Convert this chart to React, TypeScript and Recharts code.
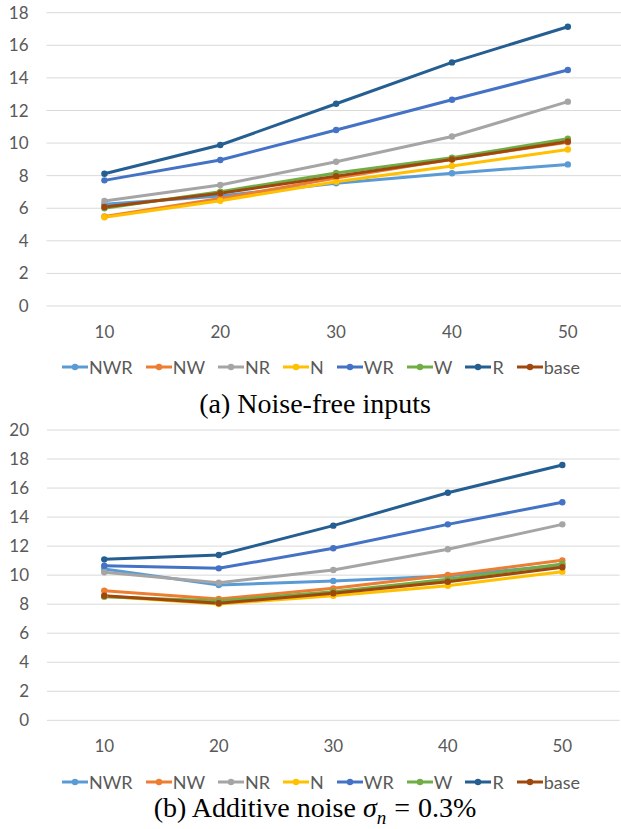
import React from 'react';
import { LineChart, Line, XAxis, YAxis, CartesianGrid, Legend } from 'recharts';

// Sequence lengths on the category axis
const sizes = [10, 20, 30, 40, 50];

const seriesNames = ['NWR', 'NW', 'NR', 'N', 'WR', 'W', 'R', 'base'];
const seriesColors = ['#5B9BD5', '#ED7D31', '#A5A5A5', '#FFC000', '#4472C4', '#70AD47', '#255E91', '#9E480E'];

// (a) noise-free inputs
const cleanNWR = [6.25, 6.75, 7.53, 8.15, 8.69];
const cleanNW = [5.5, 6.6, 7.85, 9.0, 10.05];
const cleanNR = [6.45, 7.43, 8.85, 10.4, 12.54];
const cleanN = [5.45, 6.46, 7.63, 8.59, 9.6];
const cleanWR = [7.71, 8.96, 10.8, 12.66, 14.48];
const cleanW = [6.0, 7.02, 8.16, 9.1, 10.27];
const cleanR = [8.12, 9.88, 12.41, 14.95, 17.14];
const cleanBase = [6.08, 6.92, 7.97, 8.99, 10.1];

// (b) additive noise
const noisyNWR = [10.42, 9.32, 9.6, 9.94, 10.7];
const noisyNW = [8.93, 8.36, 9.09, 10.01, 11.02];
const noisyNR = [10.2, 9.48, 10.35, 11.78, 13.5];
const noisyN = [8.55, 8.01, 8.58, 9.27, 10.24];
const noisyWR = [10.65, 10.47, 11.85, 13.5, 15.02];
const noisyW = [8.52, 8.22, 8.86, 9.71, 10.77];
const noisyR = [11.09, 11.39, 13.41, 15.68, 17.59];
const noisyBase = [8.58, 8.06, 8.75, 9.55, 10.54];

const ticksA = [0, 2, 4, 6, 8, 10, 12, 14, 16, 18];
const ticksB = [0, 2, 4, 6, 8, 10, 12, 14, 16, 18, 20];

const buildRows = (series: number[][]) =>
  sizes.map((size, i) => {
    const row: Record<string, number> = { size };
    seriesNames.forEach((name, k) => {
      row[name] = series[k][i];
    });
    return row;
  });

const rowsA = buildRows([cleanNWR, cleanNW, cleanNR, cleanN, cleanWR, cleanW, cleanR, cleanBase]);
const rowsB = buildRows([noisyNWR, noisyNW, noisyNR, noisyN, noisyWR, noisyW, noisyR, noisyBase]);

const AXIS_FONT = 'Lato, "Open Sans", sans-serif';
const TEXT_GRAY = '#595959';

const LegendRow = () => (
  <div
    style={{
      display: 'flex',
      justifyContent: 'center',
      alignItems: 'center',
      height: 20,
      fontFamily: AXIS_FONT,
      fontSize: 18,
      color: TEXT_GRAY,
    }}
  >
    {seriesNames.map((name, i) => (
      <div key={name} style={{ display: 'flex', alignItems: 'center', marginRight: i < seriesNames.length - 1 ? 13 : 0 }}>
        <svg width={26} height={10} style={{ display: 'block' }}>
          <line x1={0} y1={5} x2={26} y2={5} stroke={seriesColors[i]} strokeWidth={3} />
          <circle cx={13} cy={5} r={3.2} fill={seriesColors[i]} />
        </svg>
        <span style={{ marginLeft: 1, lineHeight: '20px' }}>{name}</span>
      </div>
    ))}
  </div>
);

type PanelProps = {
  rows: Record<string, number>[];
  yMax: number;
  yTicks: number[];
  top: number;
  height: number;
  plotTop: number;
  plotLeft: number;
  plotRight: number;
  plotBottom: number;
  legendTop: number;
};

const CHART_W = 650;

const Panel = ({ rows, yMax, yTicks, top, height, plotTop, plotLeft, plotRight, plotBottom, legendTop }: PanelProps) => (
  <div style={{ position: 'absolute', left: 0, top }}>
    <LineChart
      width={CHART_W}
      height={height}
      data={rows}
      margin={{ top: plotTop, left: 0, right: CHART_W - plotRight, bottom: 0 }}
    >
      <CartesianGrid horizontal vertical={false} stroke="#D9D9D9" strokeWidth={1} />
      <XAxis
        dataKey="size"
        type="number"
        domain={[5, 55]}
        ticks={sizes}
        height={height - plotBottom}
        axisLine={false}
        tickLine={false}
        tickSize={0}
        tickMargin={20}
        tick={{ fill: TEXT_GRAY, fontSize: 17, fontFamily: AXIS_FONT }}
      />
      <YAxis
        type="number"
        domain={[0, yMax]}
        ticks={yTicks}
        width={plotLeft}
        axisLine={false}
        tickLine={false}
        tickSize={0}
        tickMargin={18}
        tick={{ fill: TEXT_GRAY, fontSize: 17, fontFamily: AXIS_FONT }}
      />
      <Legend
        layout="horizontal"
        verticalAlign="middle"
        align="center"
        wrapperStyle={{ top: legendTop, left: 0, width: 642, height: 20 }}
        content={() => <LegendRow />}
      />
      {seriesNames.map((name, i) => (
        <Line
          key={name}
          dataKey={name}
          type="linear"
          stroke={seriesColors[i]}
          strokeWidth={3}
          dot={{ r: 3.2, fill: seriesColors[i], stroke: seriesColors[i], strokeWidth: 0 }}
          activeDot={false}
          isAnimationActive={false}
        />
      ))}
    </LineChart>
  </div>
);

const captionStyle: React.CSSProperties = {
  position: 'absolute',
  left: 0,
  width: 630,
  textAlign: 'center',
  fontFamily: '"Liberation Serif", "DejaVu Serif", serif',
  fontSize: 28,
  color: '#000',
  lineHeight: '32px',
};

export default function App() {
  return (
    <div style={{ position: 'absolute', left: 0, top: 0, width: 621, height: 829, overflow: 'hidden', background: '#fff' }}>
      <Panel
        rows={rowsA}
        yMax={18}
        yTicks={ticksA}
        top={0}
        height={390}
        plotTop={12.7}
        plotLeft={46.5}
        plotRight={625.75}
        plotBottom={306}
        legendTop={356.7}
      />
      <div style={{ ...captionStyle, top: 388 }}>(a) Noise-free inputs</div>
      <Panel
        rows={rowsB}
        yMax={20}
        yTicks={ticksB}
        top={415}
        height={385}
        plotTop={15}
        plotLeft={47}
        plotRight={619.6}
        plotBottom={305.3}
        legendTop={356.7}
      />
      <div style={{ ...captionStyle, top: 792 }}>
        (b) Additive noise <i>σ</i>
        <sub style={{ fontSize: 19 }}>
          <i>n</i>
        </sub>
        <span style={{ margin: '0 8px' }}>=</span>0.3%
      </div>
    </div>
  );
}
